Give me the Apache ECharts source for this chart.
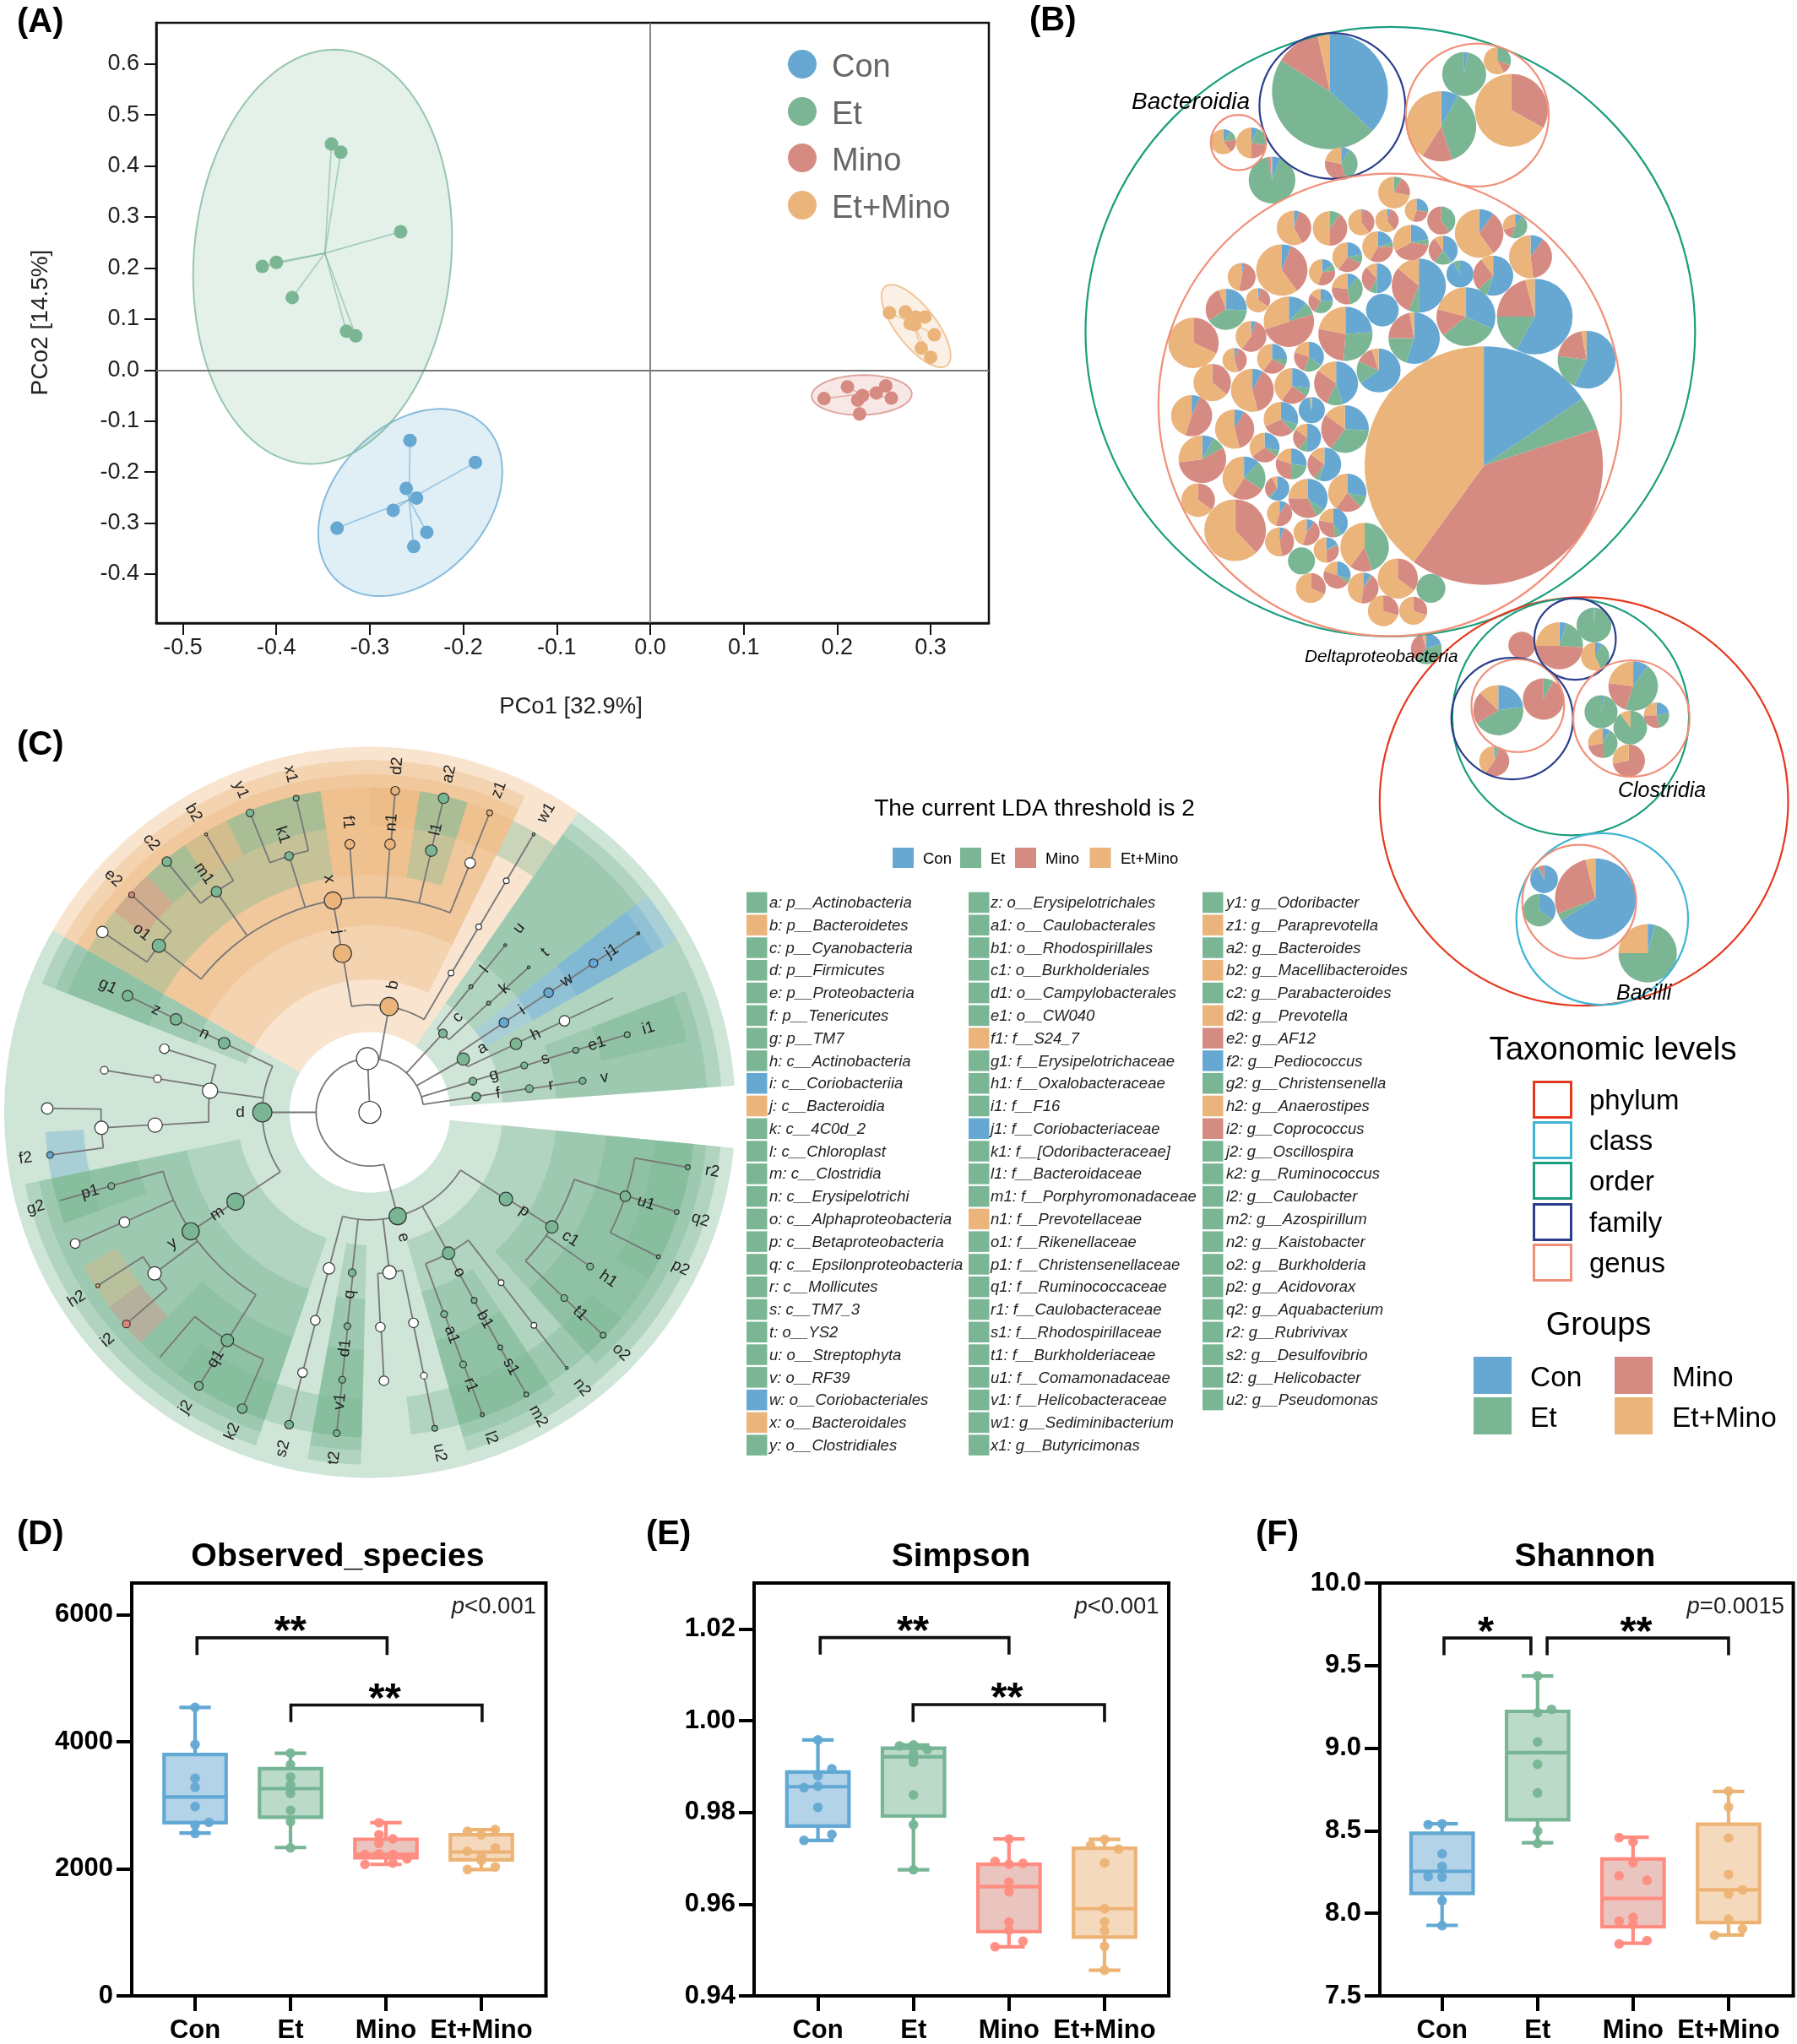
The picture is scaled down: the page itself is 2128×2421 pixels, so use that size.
<!DOCTYPE html>
<html><head><meta charset="utf-8">
<style>html,body{margin:0;padding:0;background:#fff}#c{width:2128px;height:2421px}</style>
<script src="https://cdn.jsdelivr.net/npm/echarts@6/dist/echarts.min.js"></script>
</head><body><div id="c"></div>
<script>
// ---------- shared ----------
const groupNames=['Con','Et','Mino','Et+Mino'];
const groupColors=['#66A8D2','#7AB694','#D68B82','#EBB47B'];
const boxColors=['#62A8D4','#76B595','#FF8C80','#EDB374'];
// ---------- panel A: PCoA [PCo1, PCo2] ----------
const pcoCon=[[-0.257,-0.138],[-0.187,-0.181],[-0.261,-0.232],[-0.250,-0.251],[-0.275,-0.275],[-0.335,-0.310],[-0.239,-0.318],[-0.253,-0.346]];
const pcoEt=[[-0.341,0.443],[-0.331,0.427],[-0.267,0.271],[-0.400,0.211],[-0.415,0.203],[-0.383,0.142],[-0.325,0.076],[-0.315,0.067]];
const pcoMino=[[0.211,-0.033],[0.252,-0.031],[0.242,-0.045],[0.227,-0.050],[0.222,-0.059],[0.258,-0.055],[0.186,-0.056],[0.224,-0.086]];
const pcoEtMino=[[0.256,0.112],[0.273,0.114],[0.284,0.104],[0.294,0.104],[0.278,0.091],[0.283,0.089],[0.304,0.069],[0.290,0.043],[0.300,0.025]];
const pcoCentroids=[[-0.258,-0.254],[-0.348,0.229],[0.225,-0.047],[0.281,0.091]];
// ellipse: centre x, centre y, half width, half height, correlation
const pcoEllipses=[[-0.2567,-0.2597,0.0985,0.1835,0.33],[-0.3505,0.222,0.1385,0.406,0.09],[0.2263,-0.049,0.0535,0.039,0.05],[0.2844,0.0863,0.037,0.081,-0.72]];
const pcoXTicks=[-0.5,-0.4,-0.3,-0.2,-0.1,0,0.1,0.2,0.3];
const pcoYTicks=[-0.4,-0.3,-0.2,-0.1,0,0.1,0.2,0.3,0.4,0.5,0.6];
// ---------- panel B: packed pies [x, y, r, Con, Et, Mino, Et+Mino] ----------
const packUpperPies=[
[569,212,124,37,47,12.5,3.5],[593,380,35,8,37,33,22],[856,172,47,3,97,0,0],[927,141,29,0,30,12,58],[957,256,78,0,0,33,67],[807,293,75,8,37,14,41],
[341,329,27,10,12,18,60],[401,332,33,7,20,23,50],[445,418,50,6,91,2,1],
[898,1081,255,15.5,4.5,40,40],[1118,835,62,57,20,20,3],[1007,735,81,58,17,21,4],[860,735,63,32,32,15,21],[749,785,55,55,20,22,3],[759,663,58,50,6,30,14],
[681,720,35,100,0,0,0],[847,636,29,92,8,0,0],[918,640,43,55,8,27,10],[998,596,46,10,0,38,52],[888,542,52,10,0,30,60],[965,525,26,10,45,15,30],
[807,512,30,0,40,60,0],[811,581,31,40,20,30,10],[742,563,38,22,5,40,33],[754,488,25,25,3,27,45],[706,447,34,0,8,20,72],[691,512,25,5,0,35,60],
[636,516,28,2,0,38,60],[569,530,37,0,10,40,50],[492,529,37,5,0,37,58],[671,573,33,20,5,33,42],[606,597,32,22,10,28,40],[466,627,55,6,0,34,60],
[552,632,28,15,8,32,45],[669,646,32,50,8,30,12],[606,671,33,12,35,30,23],[380,643,30,3,0,50,47],[347,718,44,26,40,28,6],[415,697,26,4,0,30,66],
[549,699,26,25,33,27,15],[481,747,54,12,8,50,30],[602,775,58,24,27,27,22],[277,796,54,0,0,32,68],[400,781,33,5,0,55,40],[365,836,26,5,0,40,55],
[445,833,32,25,8,27,40],[524,828,32,35,20,25,20],[673,860,47,65,17,13,5],[317,888,40,0,0,36,64],[403,906,46,8,0,38,54],[488,896,38,27,8,25,40],
[582,890,47,45,12,28,15],[273,965,44,7,0,48,45],[365,996,42,8,0,38,54],[530,952,28,96,2,1,1],[464,973,37,30,8,30,32],[601,996,51,26,34,25,15],
[520,1016,30,50,10,25,15],[429,1039,32,28,7,30,35],[296,1066,51,8,9,56,27],[557,1078,36,55,5,25,15],[486,1077,33,27,23,30,20],[385,1110,46,12,22,25,41],
[456,1134,26,60,3,30,7],[522,1157,42,35,8,32,25],[606,1144,41,28,10,22,40],[287,1161,36,0,0,35,65],[366,1231,66,0,0,38,62],[461,1192,27,10,0,45,45],
[519,1236,28,10,0,45,45],[576,1214,31,40,8,30,22],[643,1270,52,0,45,15,40],[461,1258,31,5,0,42,53],[508,1302,29,0,100,0,0],[561,1277,27,17,2,30,51],
[584,1335,29,30,5,45,20],[640,1365,33,8,2,42,48],[528,1365,32,0,0,32,68],[714,1343,43,0,0,35,65],[785,1366,31,0,100,0,0],[683,1418,33,0,0,30,70],
[747,1418,30,0,0,30,70],[775,1506,33,20,42,33,5]];
const packLowerPies=[
[885,580,137,66,3,27,4],[711,545,47,92,2,6,0],[695,600,55,35,65,0,0],[1062,677,99,4,71,0,25],
[556,243,85,23,43,21,13],[709,223,70,0,8,92,0],[542,334,51,3,3,54,40],
[880,91,59,1,99,0,0],[763,128,80,5,21,49,25],[884,147,48,8,35,0,57],[636,127,46,0,0,100,0],
[1013,200,84,10,45,22,23],[904,246,56,3,97,0,0],[1003,274,57,0,90,0,10],[1092,252,43,22,25,28,25],[910,302,50,8,42,22,28],[998,333,55,0,0,72,28]];
// enclosing circles [x, y, r, level]
const packLevels=['phylum','class','order','family','genus'];
const packLevelColors=['#E5391F','#3FB5D5','#1A9E7E','#2B3E8C','#F0907A'];
const packUpperCircles=[[698,770,652,2],[574,246,156,3],[884,267,153,4],[373,331,59,4],[697,940,495,4]];
const packLowerCircles=[[846,406,692,0],[801,255,401,2],[908,616,291,1],[830,585,193,4],[603,258,206,3],[622,235,157,4],[816,116,138,3],[1007,258,197,4]];
// ---------- panel C: cladogram [id, parent, level, angle, group, node size] ----------
const cladeNodes=[
['_root',null,0,0,'W',23],['_K','_root',1,-2.5,'W',23],
['c','_K',2,42.8,'E',9],['a','_K',2,60.3,'E',13],['g','_K',2,73.2,'E',8],['f','_K',2,81.6,'E',9],['b','_K',2,10.3,'O',19],['d','_K',2,-90,'E',20],['e','_K',2,-195,'E',18],
['l','c',3,38.8,'E',4],['k','c',3,47.4,'E',4],['u','l',4,39,'E',3],['t','k',4,47.6,'E',3],
['i','a',3,56.2,'C',10],['w','i',4,56.2,'C',10],['j1','w',5,56.3,'C',9],['_j1g','j1',6,56.3,'T',3],
['h','a',3,64.9,'E',12],['_h1','h',4,64.8,'W',11],['_h2','_h1',5,64.8,'',0],
['s','g',3,73.1,'E',7],['e1','s',4,73.2,'E',6],['i1','e1',5,73.2,'E',6],
['r','f',3,81.5,'E',8],['v','r',4,81.6,'E',7],
['j','b',3,-9.8,'O',19],['_w3','b',3,30.2,'W',6],['_w4','_w3',4,30.4,'W',6],['_w5','_w4',5,30.5,'W',6],['w1','_w5',6,30.5,'E',3],
['x','j',4,-9.9,'O',18],
['o1','x',5,-51.7,'E',14],['m1','x',5,-34.8,'E',11],['k1','x',5,-17.5,'E',9],['f1','x',5,-4.3,'O',10],['n1','x',5,4.3,'O',11],['l1','x',5,13.2,'E',12],['_x6','x',5,21.9,'W',11],
['e2','o1',6,-47.6,'M',6],['_o2','o1',6,-56,'W',12],['b2','m1',6,-30.5,'O',3],['c2','m1',6,-39,'E',10],['x1','k1',6,-13.2,'E',6],['y1','k1',6,-21.8,'E',8],
['d2','n1',6,4.5,'O',9],['a2','l1',6,13.2,'E',11],['z1','_x6',6,21.8,'O',6],
['n','d',3,-64.6,'E',12],['_d3','d',3,-82.3,'W',16],['m','d',3,-123.6,'E',18],
['z','n',4,-64.4,'E',12],['g1','z',5,-64.3,'E',11],
['_a1','_d3',4,-72.8,'W',10],['_a2','_d3',4,-81,'W',8],['_a3','_d3',4,-93.4,'W',15],['_a4','_a2',5,-81,'W',8],['_a5','_a3',5,-93.3,'W',14],['_a6','_a5',6,-89.3,'W',12],['f2','_a5',6,-97.6,'C',7],
['y','m',4,-123.6,'E',18],['p1','y',5,-105.9,'E',7],['_y2','y',5,-114.1,'W',11],['_y3','y',5,-126.8,'W',14],['q1','y',5,-148,'E',13],
['g2','p1',6,-105.9,'E',1.5],['_y4','_y2',6,-114,'W',10],['h2','_y3',6,-122.5,'O',4],['i2','_y3',6,-131,'M',8],['_q3','q1',6,-139.4,'',0],['j2','q1',6,-148,'E',9],['k2','q1',6,-156.7,'E',10],
['p','e',3,-237.5,'E',14],['o','e',3,-209.2,'E',13],['_e3','e',3,-187,'W',14],['q','e',3,-173.7,'E',8],['_e5','e',3,-165.3,'W',12],
['c1','p',4,-237.8,'E',13],['a1','o',4,-200.2,'E',7],['b1','o',4,-209,'E',6],['_o4','o',4,-217.6,'W',6],['_e6','_e3',4,-182.8,'W',10],['_e7','_e3',4,-191.7,'W',10],['d1','q',4,-174,'E',7],['_e8','_e5',4,-165.3,'W',10],
['u1','c1',5,-251.8,'E',11],['h1','c1',5,-235,'E',7],['t1','c1',5,-226.3,'E',7],['r1','a1',5,-200.3,'E',7],['s1','b1',5,-209,'E',5],['_o5','_o4',5,-217.6,'W',6],['_e9','_e6',5,-183,'W',10],['_e10','_e7',5,-191.6,'W',7],['v1','d1',5,-174.1,'E',7],['_e11','_e8',5,-165.5,'W',10],
['r2','u1',6,-260.2,'E',5],['q2','u1',6,-252,'E',5],['p2','u1',6,-243.4,'E',4],['o2','t1',6,-226.3,'E',6],['n2','_o5',6,-217.6,'E',3],['m2','s1',6,-209,'E',5],['l2','r1',6,-200.4,'E',4],['u2','_e10',6,-191.6,'E',6],['t2','v1',6,-174.1,'E',7],['s2','_e11',6,-165.5,'E',9]];
const taxaCol1=['a: p__Actinobacteria','b: p__Bacteroidetes','c: p__Cyanobacteria','d: p__Firmicutes','e: p__Proteobacteria','f: p__Tenericutes','g: p__TM7','h: c__Actinobacteria','i: c__Coriobacteriia','j: c__Bacteroidia','k: c__4C0d_2','l: c__Chloroplast','m: c__Clostridia','n: c__Erysipelotrichi','o: c__Alphaproteobacteria','p: c__Betaproteobacteria','q: c__Epsilonproteobacteria','r: c__Mollicutes','s: c__TM7_3','t: o__YS2','u: o__Streptophyta','v: o__RF39','w: o__Coriobacteriales','x: o__Bacteroidales','y: o__Clostridiales'];
const taxaCol2=['z: o__Erysipelotrichales','a1: o__Caulobacterales','b1: o__Rhodospirillales','c1: o__Burkholderiales','d1: o__Campylobacterales','e1: o__CW040','f1: f__S24_7','g1: f__Erysipelotrichaceae','h1: f__Oxalobacteraceae','i1: f__F16','j1: f__Coriobacteriaceae','k1: f__[Odoribacteraceae]','l1: f__Bacteroidaceae','m1: f__Porphyromonadaceae','n1: f__Prevotellaceae','o1: f__Rikenellaceae','p1: f__Christensenellaceae','q1: f__Ruminococcaceae','r1: f__Caulobacteraceae','s1: f__Rhodospirillaceae','t1: f__Burkholderiaceae','u1: f__Comamonadaceae','v1: f__Helicobacteraceae','w1: g__Sediminibacterium','x1: g__Butyricimonas'];
const taxaCol3=['y1: g__Odoribacter','z1: g__Paraprevotella','a2: g__Bacteroides','b2: g__Macellibacteroides','c2: g__Parabacteroides','d2: g__Prevotella','e2: g__AF12','f2: g__Pediococcus','g2: g__Christensenella','h2: g__Anaerostipes','i2: g__Coprococcus','j2: g__Oscillospira','k2: g__Ruminococcus','l2: g__Caulobacter','m2: g__Azospirillum','n2: g__Kaistobacter','o2: g__Burkholderia','p2: g__Acidovorax','q2: g__Aquabacterium','r2: g__Rubrivivax','s2: g__Desulfovibrio','t2: g__Helicobacter','u2: g__Pseudomonas'];
const taxaGroups1='EOEEEEEECOEEEEEEEEEEEECOE';
const taxaGroups2='EEEEEEOEEECEEEOEEEEEEEEEE';
const taxaGroups3='EOEOEOMCEOMEEEEEEEEEEEE';
// ---------- panels D-F: box [x, low, Q1, median, Q3, high], points [offset, value] ----------
const obsBox=[[0,2564,2726,3133,3799,4542],[1,2336,2813,3263,3577,3821],[2,2070,2173,2228,2466,2726],[3,1989,2141,2266,2537,2618]];
const obsCon=[[0,4542],[0,3957],[0,3426],[0,3285],[0,2981],[0.146,2732],[0,2688],[0,2558]];
const obsEt=[[0,3821],[0,3642],[0,3447],[0,3322],[0,3252],[0,3187],[0,2921],[0,2742],[0,2330]];
const obsMino=[[-0.073,2726],[-0.073,2537],[-0.073,2401],[0.073,2471],[-0.22,2228],[-0.073,2238],[0.073,2228],[0.22,2157],[-0.22,2070],[0.073,2092]];
const obsEtMino=[[-0.146,2591],[0.146,2618],[0,2537],[0.146,2331],[-0.146,2276],[0,2200],[0.146,2032],[-0.146,1989],[0,2130]];
const simBox=[[0,0.9739,0.977,0.9856,0.9888,0.9958],[1,0.9675,0.9792,0.9921,0.994,0.9947],[2,0.9507,0.954,0.9638,0.9687,0.9742],[3,0.9456,0.9528,0.959,0.9722,0.9741]];
const simCon=[[0,0.9958],[0.146,0.9895],[0,0.988],[-0.146,0.9854],[0,0.9857],[0,0.9811],[0.146,0.9752],[-0.146,0.9739]];
const simEt=[[-0.146,0.9945],[0,0.9947],[0.146,0.9937],[0,0.9928],[0,0.9917],[0,0.9909],[0,0.9838],[0,0.9773],[0,0.9675]];
const simMino=[[0,0.9742],[-0.146,0.9693],[0.146,0.9689],[0,0.9687],[0,0.9648],[0,0.9627],[0,0.9561],[0,0.9543],[0.146,0.9519],[-0.146,0.9507]];
const simEtMino=[[0,0.9741],[-0.146,0.9728],[0.146,0.972],[0,0.969],[0,0.959],[0,0.9561],[0,0.9542],[0,0.9508],[0,0.9456]];
const shaBox=[[0,7.927,8.121,8.254,8.485,8.542],[1,8.427,8.567,8.973,9.223,9.4375],[2,7.819,7.919,8.09,8.329,8.46],[3,7.869,7.944,8.142,8.54,8.7375]];
const shaCon=[[-0.146,8.537],[0,8.542],[0,8.36],[0,8.283],[-0.146,8.223],[0,8.219],[0,8.077],[0,7.925]];
const shaEt=[[0,9.437],[0.146,9.235],[0,9.215],[0,9.0375],[0,8.902],[0,8.729],[0,8.498],[0,8.423]];
const shaMino=[[-0.146,8.458],[0,8.433],[0,8.306],[-0.146,8.227],[0.146,8.2],[0,7.975],[-0.146,7.952],[0,7.933],[0.146,7.835],[-0.146,7.815]];
const shaEtMino=[[0,8.74],[0,8.644],[0,8.456],[0,8.235],[0.146,8.142],[0,8.117],[0,7.965],[0.146,7.906],[-0.146,7.867]];
// brackets [x0, x1, y top, y foot]
const obsBrackets=[[0.02,2.012,5637,5366],[1.004,3.008,4580,4309]];
const simBrackets=[[0.024,2,1.0181,1.0144],[0.996,3,1.0035,0.9997]];
const shaBrackets=[[0.02,0.93,9.667,9.5625],[1.1,3,9.667,9.5625]];
const obsStars=['**','**'],simStars=['**','**'],shaStars=['*','**'];
const obsTicks=[0,2000,4000,6000],simTicks=[0.94,0.96,0.98,1,1.02],shaTicks=[7.5,8,8.5,9,9.5,10];

// ---------- build ----------
const FF='"Liberation Sans",Arial,sans-serif';
const BLK='#000';
const grid=[],xAxis=[],yAxis=[],series=[],gfx=[];
function text(x,y,s,size,o){o=o||{};gfx.push({type:'text',x,y:y+size*0.08,z:50,silent:true,style:{text:s,fontFamily:FF,fontSize:size,fontWeight:o.bold?'bold':'normal',fontStyle:o.italic?'italic':'normal',fill:o.fill||BLK,align:o.align||'left',verticalAlign:'middle'}});}
function rect(x,y,w,h,fill,stroke,lw){gfx.push({type:'rect',z:50,silent:true,shape:{x,y,width:w,height:h},style:{fill:fill||'#fff',stroke:stroke||null,lineWidth:lw||0}});}

// panel A
grid.push({left:185,top:27,width:986,height:711,show:true,borderColor:'#111',borderWidth:2.5,backgroundColor:'transparent'});
const aAxisLine={show:true,onZero:false,lineStyle:{color:'#111',width:2.5}};
xAxis.push({type:'value',gridIndex:0,min:-0.5285,max:0.3623,splitLine:{show:false},axisLine:aAxisLine,
  axisTick:{show:true,length:14,customValues:pcoXTicks,lineStyle:{color:'#111',width:2}},
  axisLabel:{customValues:pcoXTicks,formatter:v=>Number(v).toFixed(1),fontSize:27,color:'#222',fontFamily:FF,margin:16}});
yAxis.push({type:'value',gridIndex:0,min:-0.496,max:0.6806,splitLine:{show:false},axisLine:aAxisLine,
  axisTick:{show:true,length:14,customValues:pcoYTicks,lineStyle:{color:'#111',width:2}},
  axisLabel:{customValues:pcoYTicks,formatter:v=>Number(v).toFixed(1),fontSize:27,color:'#222',fontFamily:FF,margin:20}});
const pcoAll=[pcoCon,pcoEt,pcoMino,pcoEtMino];
series.push({type:'custom',xAxisIndex:0,yAxisIndex:0,z:2,silent:true,data:pcoEllipses,
  renderItem(p,api){const e=pcoEllipses[p.dataIndex],pts=[];const s=Math.sqrt(1-e[4]*e[4]);
    for(let k=0;k<120;k++){const t=k/120*2*Math.PI;pts.push(api.coord([e[0]+e[2]*Math.cos(t),e[1]+e[3]*(e[4]*Math.cos(t)+s*Math.sin(t))]));}
    const c=groupColors[p.dataIndex];
    return {type:'polygon',shape:{points:pts},style:{fill:c,fillOpacity:0.2,stroke:c,lineWidth:2,strokeOpacity:0.75}};}});
pcoAll.forEach((pts,g)=>{
  series.push({type:'custom',xAxisIndex:0,yAxisIndex:0,z:3,silent:true,data:pts,
    renderItem(p,api){const a=api.coord(pcoCentroids[g]),b=api.coord(pts[p.dataIndex]);
      return {type:'line',shape:{x1:a[0],y1:a[1],x2:b[0],y2:b[1]},style:{stroke:groupColors[g],lineWidth:1.6,opacity:0.6}};}});
  const sc={type:'scatter',name:groupNames[g],xAxisIndex:0,yAxisIndex:0,z:4,silent:true,data:pts,symbolSize:16,itemStyle:{color:groupColors[g],opacity:1}};
  if(g===0)sc.markLine={silent:true,symbol:'none',label:{show:false},z:5,lineStyle:{color:'#777',width:1.8,type:'solid'},data:[{xAxis:0},{yAxis:0}]};
  series.push(sc);
});
groupNames.forEach((n,i)=>{const y=[76,132,187,243][i];
  gfx.push({type:'circle',z:50,silent:true,shape:{cx:950,cy:y,r:17},style:{fill:groupColors[i]}});
  text(985,y+1,n,38,{fill:'#666'});});
text(676,835,'PCo1 [32.9%]',27.5,{align:'center',fill:'#222'});
gfx.push({type:'text',x:48,y:382,rotation:Math.PI/2,z:50,silent:true,style:{text:'PCo2 [14.5%]',fontFamily:FF,fontSize:28,fill:'#222',align:'center',verticalAlign:'middle'}});

// panel B hidden layout axes
function hiddenGrid(left,top,w,h){
  grid.push({left,top,width:w,height:h,show:false});
  xAxis.push({type:'value',gridIndex:grid.length-1,min:0,max:1568,show:false});
  yAxis.push({type:'value',gridIndex:grid.length-1,min:0,max:1568,inverse:true,show:false});
  return grid.length-1;
}
function packCircles(idx,rows,z){series.push({type:'custom',xAxisIndex:idx,yAxisIndex:idx,z,silent:true,data:rows,encode:{x:0,y:1},
  renderItem(p,api){const r=rows[p.dataIndex],c=api.coord([r[0],r[1]]),s=api.size([r[2],0])[0];
    return {type:'circle',shape:{cx:c[0],cy:c[1],r:s},style:{fill:'none',stroke:packLevelColors[r[3]],lineWidth:2.2}};}});}
function packPies(idx,rows,z){series.push({type:'custom',xAxisIndex:idx,yAxisIndex:idx,z,silent:true,data:rows,encode:{x:0,y:1},
  renderItem(p,api){const r=rows[p.dataIndex],c=api.coord([r[0],r[1]]),s=api.size([r[2],0])[0];
    const tot=r[3]+r[4]+r[5]+r[6];let a=-Math.PI/2;const ch=[];
    for(let i=0;i<4;i++){const v=r[3+i];if(!v)continue;const b=a+v/tot*2*Math.PI;
      if(v>=tot){ch.push({type:'circle',shape:{cx:c[0],cy:c[1],r:s},style:{fill:groupColors[i]}});}
      else ch.push({type:'sector',shape:{cx:c[0],cy:c[1],r0:0,r:s,startAngle:a,endAngle:b,clockwise:true},style:{fill:groupColors[i]}});
      a=b;}
    return {type:'group',children:ch};}});}
const gB1=hiddenGrid(1260,0,868,800),gB2=hiddenGrid(1580,680,548,1040);
packPies(gB1,packUpperPies,6);packCircles(gB1,packUpperCircles,7);
packPies(gB2,packLowerPies,6);packCircles(gB2,packLowerCircles,7);
text(1340,119,'Bacteroidia',28,{italic:true});
text(1545,777,'Deltaproteobacteria',20.8,{italic:true});
text(1916,935,'Clostridia',25,{italic:true});
text(1914,1175,'Bacilli',25,{italic:true});
text(1910,1241,'Taxonomic levels',38.5,{align:'center'});
packLevels.forEach((n,i)=>{const y=[1280,1328,1376,1425,1473][i];
  rect(1816.5,y+1.5,44,42,'#fff',packLevelColors[i],3);text(1882,y+22,n,33);});
text(1893,1567,'Groups',38,{align:'center'});
[[1745,1607,0,1812],[1745,1655,1,1812],[1912,1607,2,1980],[1912,1655,3,1980]].forEach(a=>{
  rect(a[0],a[1],45,44,groupColors[a[2]]);text(a[3],a[1]+23,groupNames[a[2]],33.5);});

// panel C polar
const RS=433/765;
const byId={};cladeNodes.forEach(n=>{byId[n[0]]={id:n[0],parent:n[1],level:n[2],theta:n[3],group:n[4],size:n[5],kids:[]};});
cladeNodes.forEach(n=>{if(n[1])byId[n[1]].kids.push(byId[n[0]]);});
const nodeList=cladeNodes.map(n=>byId[n[0]]);
const LR=112.5;
const cladeColor={W:'#fff',E:'#7AB694',C:'#66A8D2',M:'#E0857C',O:'#EBB47B',T:'#3f7f60'};
const bandR0=[0,0,168,278,391,497,600],bandR1=[0,0,765,737,707,680,680];
const leafAngles=nodeList.filter(n=>!n.kids.length).map(n=>n.theta).sort((a,b)=>a-b);
function leafExtent(n){if(!n.kids.length)return [n.theta,n.theta];let lo=1e9,hi=-1e9;n.kids.forEach(k=>{const e=leafExtent(k);lo=Math.min(lo,e[0]);hi=Math.max(hi,e[1]);});return [lo,hi];}
function bandEdges(e){const i=leafAngles.indexOf(e[0]),j=leafAngles.indexOf(e[1]);
  const a0=i>0?(leafAngles[i-1]+e[0])/2:e[0]-4.2, a1=j<leafAngles.length-1?(e[1]+leafAngles[j+1])/2:e[1]+4.2;return [a0,a1];}
// neighbouring clades of one level and one group share a single band
const rawBands=nodeList.filter(n=>n.group&&'ECMO'.includes(n.group)&&n.level>=2).map(n=>{const b=bandEdges(leafExtent(n));return [bandR0[n.level],bandR1[n.level],b[0],b[1],n.group,n.level];})
  .sort((a,b)=>a[5]-b[5]||a[2]-b[2]);
const sectors=[];rawBands.forEach(s=>{const t=sectors[sectors.length-1];
  if(t&&t[5]===s[5]&&t[4]===s[4]&&Math.abs(t[3]-s[2])<0.5)t[3]=s[3];else sectors.push(s.slice());});
const polarBase={coordinateSystem:'polar',silent:true};
series.push(Object.assign({},polarBase,{type:'custom',z:8,data:sectors.map(s=>[s[0],s[2]]),
  renderItem(p,api){const s=sectors[p.dataIndex],pts=[],N=Math.max(4,Math.ceil((s[3]-s[2])/1));
    for(let k=0;k<=N;k++)pts.push(api.coord([s[1],s[2]+(s[3]-s[2])*k/N]));
    for(let k=N;k>=0;k--)pts.push(api.coord([s[0],s[2]+(s[3]-s[2])*k/N]));
    return {type:'polygon',shape:{points:pts},style:{fill:cladeColor[s[4]],fillOpacity:0.36}};}}));
series.push(Object.assign({},polarBase,{type:'custom',z:9,data:nodeList.map(n=>[n.level*LR,n.theta]),
  renderItem(p,api){const n=nodeList[p.dataIndex];if(!n.kids.length)return {type:'group',children:[]};
    const r=n.level*LR;const ch=[];let lo=n.theta,hi=n.theta;
    n.kids.forEach(k=>{lo=Math.min(lo,k.theta);hi=Math.max(hi,k.theta);
      const a=api.coord([r,k.theta]),b=api.coord([k.level*LR,k.theta]);
      ch.push({type:'line',shape:{x1:a[0],y1:a[1],x2:b[0],y2:b[1]},style:{stroke:'#777',lineWidth:1.8}});});
    if(hi-lo>0.3){const pts=[],N=Math.ceil((hi-lo)/2);for(let k=0;k<=N;k++)pts.push(api.coord([r,lo+(hi-lo)*k/N]));
      ch.push({type:'polyline',shape:{points:pts},style:{stroke:'#777',lineWidth:1.8,fill:'none'}});}
    return {type:'group',children:ch};}}));
const drawn=nodeList.filter(n=>n.group);
series.push(Object.assign({},polarBase,{type:'scatter',z:10,clip:false,
  data:drawn.map(n=>({value:[n.level*LR,((n.theta%360)+360)%360],symbolSize:Math.max(2.5,n.size*2*RS),
    itemStyle:{color:cladeColor[n.group],borderColor:'#333',borderWidth:n.size<2?0:1.2,opacity:1}}))}));
const labelled=nodeList.filter(n=>n.id[0]!=='_');
series.push(Object.assign({},polarBase,{type:'custom',z:11,data:labelled.map(n=>[n.level*LR,n.theta]),
  renderItem(p,api){const n=labelled[p.dataIndex];
    const off=n.level===6?52:46;const c=api.coord([n.level*LR+off,n.theta]);
    let t=n.theta;while(t>180)t-=360;while(t<=-180)t+=360;
    const deg=t>=0?90-t:-(90+t);
    return {type:'text',x:c[0],y:c[1],rotation:deg*Math.PI/180,style:{text:n.id,fontFamily:FF,fontSize:19,fill:'#222',align:'center',verticalAlign:'middle'}};}}));
text(1225,956.5,'The current LDA threshold is 2',28,{align:'center'});
[[1057,1093,0],[1137,1173,1],[1202,1238,2],[1290.5,1327,3]].forEach(a=>{
  rect(a[0],1004,25,24,groupColors[a[2]]);text(a[1],1016,groupNames[a[2]],18.5);});
const gmap={C:0,E:1,M:2,O:3};
[[taxaCol1,taxaGroups1,884,911],[taxaCol2,taxaGroups2,1147,1173],[taxaCol3,taxaGroups3,1424,1452]].forEach(col=>{
  col[0].forEach((s,i)=>{const y=1068.5+i*26.78;
    rect(col[2],y-11.8,24.5,24.5,groupColors[gmap[col[1][i]]]);
    text(col[3],y,s,18.5,{italic:true,fill:'#222'});});});

// panels D-F
function boxPanel(cfg){
  const gi=grid.length;
  grid.push({left:cfg.left,top:1875,width:cfg.width,height:491,show:true,borderColor:BLK,borderWidth:4,backgroundColor:'transparent'});
  const line={show:true,onZero:false,lineStyle:{color:BLK,width:4}};
  xAxis.push({type:'value',gridIndex:gi,min:cfg.xmin,max:cfg.xmax,splitLine:{show:false},axisLine:line,
    axisTick:{show:true,length:18,customValues:[0,1,2,3],lineStyle:{color:BLK,width:4}},
    axisLabel:{customValues:[0,1,2,3],formatter:v=>groupNames[Math.round(v)],fontSize:31,fontWeight:'bold',color:BLK,fontFamily:FF,margin:26}});
  yAxis.push({type:'value',gridIndex:gi,min:cfg.ymin,max:cfg.ymax,splitLine:{show:false},axisLine:line,
    axisTick:{show:true,length:18,customValues:cfg.ticks,lineStyle:{color:BLK,width:4}},
    axisLabel:{customValues:cfg.ticks,formatter:v=>Number(v).toFixed(cfg.dec),fontSize:31,fontWeight:'bold',color:BLK,fontFamily:FF,margin:22,padding:[0,0,5,0]}});
  series.push({type:'custom',xAxisIndex:gi,yAxisIndex:gi,z:12,silent:true,data:cfg.box,encode:{x:0,y:[1,2,3,4,5]},
    renderItem(p,api){const b=cfg.box[p.dataIndex],x=b[0],c=boxColors[p.dataIndex];
      const P=(a,v)=>api.coord([a,v]);
      const tl=P(x-0.325,b[4]),br=P(x+0.325,b[2]);
      const ln=(a,d)=>({type:'line',shape:{x1:a[0],y1:a[1],x2:d[0],y2:d[1]},style:{stroke:c,lineWidth:4.2}});
      return {type:'group',children:[
        ln(P(x,b[4]),P(x,b[5])),ln(P(x,b[2]),P(x,b[1])),ln(P(x-0.165,b[5]),P(x+0.165,b[5])),ln(P(x-0.165,b[1]),P(x+0.165,b[1])),
        {type:'rect',shape:{x:tl[0],y:tl[1],width:br[0]-tl[0],height:br[1]-tl[1]},style:{fill:groupColors[p.dataIndex],fillOpacity:0.5,stroke:c,lineWidth:4.2}},
        ln(P(x-0.325,b[3]),P(x+0.325,b[3]))]};}});
  cfg.pts.forEach((pts,g)=>series.push({type:'scatter',xAxisIndex:gi,yAxisIndex:gi,z:13,silent:true,symbolSize:11.5,
    data:pts.map(q=>[g+q[0],q[1]]),itemStyle:{color:boxColors[g],opacity:0.95}}));
  series.push({type:'custom',xAxisIndex:gi,yAxisIndex:gi,z:14,silent:true,data:cfg.brackets,encode:{x:[0,1],y:[2,3]},
    renderItem(p,api){const b=cfg.brackets[p.dataIndex],a=api.coord([b[0],b[3]]),d=api.coord([b[0],b[2]]),e=api.coord([b[1],b[2]]),f=api.coord([b[1],b[3]]);
      return {type:'group',children:[
        {type:'polyline',shape:{points:[a,d,e,f]},style:{stroke:'#111',lineWidth:3.6,fill:'none'}},
        {type:'text',x:(d[0]+e[0])/2-2,y:d[1]-6,style:{text:cfg.stars[p.dataIndex],fontFamily:FF,fontWeight:'bold',fontSize:49,fill:'#000',align:'center',verticalAlign:'middle'}}]};}});
  text(cfg.titleX,1841,cfg.title,cfg.titleSize||39,{bold:true,align:'center'});
  gfx.push({type:'text',x:cfg.pRight,y:1903,z:50,silent:true,style:{text:'{i|p}{n|'+cfg.pText+'}',align:'right',verticalAlign:'middle',fontFamily:FF,fontSize:27.5,fill:'#222',
    rich:{i:{fontStyle:'italic',fontFamily:FF,fontSize:27.5,fill:'#222'},n:{fontFamily:FF,fontSize:27.5,fill:'#222'}}}});
}
boxPanel({left:156,width:490.5,xmin:-0.664,xmax:3.677,ymin:0,ymax:6500,ticks:obsTicks,dec:0,box:obsBox,pts:[obsCon,obsEt,obsMino,obsEtMino],brackets:obsBrackets,stars:obsStars,title:'Observed_species',titleSize:39.3,titleX:400,pRight:635,pText:'<0.001'});
boxPanel({left:893,width:491,xmin:-0.668,xmax:3.672,ymin:0.94,ymax:1.03,ticks:simTicks,dec:2,box:simBox,pts:[simCon,simEt,simMino,simEtMino],brackets:simBrackets,stars:simStars,title:'Simpson',titleX:1138,pRight:1372.6,pText:'<0.001'});
boxPanel({left:1634,width:489.6,xmin:-0.652,xmax:3.678,ymin:7.5,ymax:10,ticks:shaTicks,dec:1,box:shaBox,pts:[shaCon,shaEt,shaMino,shaEtMino],brackets:shaBrackets,stars:shaStars,title:'Shannon',titleX:1877,pRight:2113,pText:'=0.0015'});

[['(A)',20,24],['(B)',1219,22],['(C)',20,880],['(D)',20,1815],['(E)',765,1815],['(F)',1487,1815]].forEach(a=>text(a[1],a[2],a[0],40,{bold:true}));

const chart=echarts.init(document.getElementById('c'),null,{renderer:'canvas',width:2128,height:2421});
chart.setOption({animation:false,backgroundColor:'#fff',grid,xAxis,yAxis,
  polar:{center:[438,1317.5],radius:[0,433]},
  radiusAxis:{polarIndex:0,type:'value',min:0,max:765,show:false},
  angleAxis:{polarIndex:0,type:'value',min:0,max:360,startAngle:90,clockwise:true,show:false},
  series,graphic:{elements:gfx}});
</script></body></html>
